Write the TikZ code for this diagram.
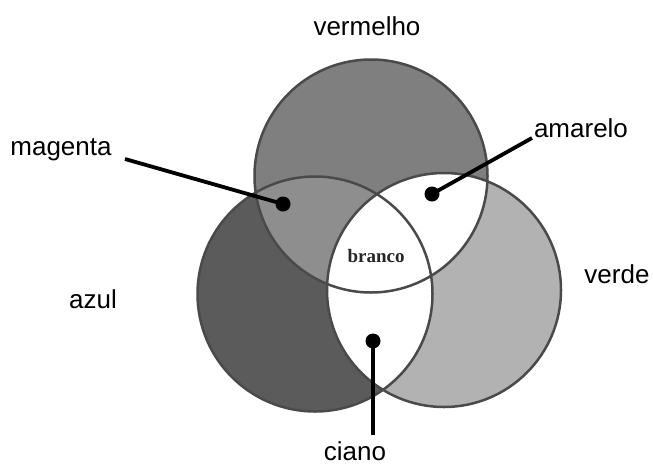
\documentclass[tikz,border=0pt]{standalone}
\usepackage{fontspec}
\setmainfont{Liberation Sans}
\newfontfamily\brancofont{Liberation Serif}
\begin{document}
\begin{tikzpicture}[x=1pt,y=-1pt,
  lbl/.style={anchor=base,inner sep=0pt,font=\fontsize{26}{30}\selectfont},
  ring/.style={draw=ringgray,line width=2.5pt},
  pointer/.style={line width=3.8pt,black},
  dot/.style={circle,fill=black,inner sep=0pt,minimum size=15pt}]
\definecolor{ringgray}{HTML}{4A4A4A}
\definecolor{redgray}{HTML}{7F7F7F}
\definecolor{bluegray}{HTML}{5B5B5B}
\definecolor{greengray}{HTML}{B2B2B2}
\definecolor{magentagray}{HTML}{8E8E8E}
\useasboundingbox (0,0) rectangle (653,466);
\fill[white] (0,0) rectangle (653,466);

% circle centres
\coordinate (R) at (371,176);
\coordinate (B) at (315,294);
\coordinate (G) at (444,290);
\def\rR{116.5pt}
\def\rB{117.5pt}
\def\rG{117pt}

% base fills
\fill[bluegray] (B) circle[radius=\rB];
\fill[greengray] (G) circle[radius=\rG];
\fill[redgray] (R) circle[radius=\rR];
% red + blue
\begin{scope}
  \clip (R) circle[radius=\rR];
  \fill[magentagray] (B) circle[radius=\rB];
  \fill[white] (G) circle[radius=\rG];
\end{scope}
% blue + green
\begin{scope}
  \clip (B) circle[radius=\rB];
  \fill[white] (G) circle[radius=\rG];
\end{scope}
% outlines
\draw[ring] (R) circle[radius=\rR];
\draw[ring] (B) circle[radius=\rB];
\draw[ring] (G) circle[radius=\rG];

\node[anchor=base,inner sep=0pt,text=black!85,font=\brancofont\bfseries\fontsize{19}{22}\selectfont] (branco) at (376,262) {branco};

% labels
\node[lbl] (vermelho) at (367,35) {vermelho};
\node[lbl] (magenta) at (61,155) {magenta};
\node[lbl] (amarelo) at (581,137) {amarelo};
\node[lbl] (verde) at (617,283) {verde};
\node[lbl] (azul) at (93,308) {azul};
\node[lbl] (ciano) at (355,460) {ciano};

% pointers
\node[dot] (dm) at (283,204) {};
\node[dot] (da) at (432,194) {};
\node[dot] (dc) at (373,341) {};
\coordinate (em) at (125,159);
\coordinate (ea) at (532,138);
\coordinate (ec) at (373,435);
\draw[pointer] (em) -- (dm.center);
\draw[pointer] (ea) -- (da.center);
\draw[pointer] (ec) -- (dc.center);
\end{tikzpicture}
\end{document}
